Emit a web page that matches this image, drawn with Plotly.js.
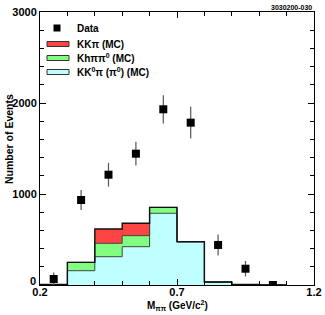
<!DOCTYPE html>
<html>
<head>
<meta charset="utf-8">
<script src="https://cdn.plot.ly/plotly-3.0.1.min.js"></script>
<style>html,body{margin:0;padding:0;background:#fff;}#chart{width:325px;height:315px;}</style>
</head>
<body>
<div id="chart"></div>
<script>
// Bin centers (M_pipi, GeV/c^2), bin width 0.1
var binCenters = [0.25, 0.35, 0.45, 0.55, 0.65, 0.75, 0.85, 0.95, 1.05];
var binWidth = 0.1;
// MC stacked components
var kk0pi = [5, 157, 311, 421, 788, 476, 33, 5, 0];      // KK0 pi (pi0) (MC), cyan
var khpipi0 = [0, 92, 147, 121, 65, 0, 0, 0, 0];         // Kh pi pi0 (MC), green
var kkpi = [0, 0, 157, 136, 0, 0, 0, 0, 0];              // KK pi (MC), red
// Data points
var dataY = [66, 934, 1212, 1443, 1931, 1784, 440, 179, 0];
var dataErr = [70, 110, 130, 130, 155, 175, 115, 85, 0];
// Y tick labels
var yTickVals = [1000, 2000, 3000];
var yTickText = ['1000', '2000', '3000'];

var FONT = "Liberation Sans, Arial, Helvetica, sans-serif";

// step outlines built from the data
var edges = binCenters.map(function(c){ return c - binWidth / 2; });
edges.push(binCenters[binCenters.length - 1] + binWidth / 2);
function stepY(arr){ var a = arr.slice(); a.push(arr[arr.length - 1]); return a; }
var lvl1 = kk0pi.slice();
var lvl2 = kk0pi.map(function(v, i){ return v + khpipi0[i]; });
var lvl3 = lvl2.map(function(v, i){ return v + kkpi[i]; });

var traces = [
  {type: 'bar', x: binCenters, y: kk0pi, width: binWidth,
   marker: {color: '#c0ffff', line: {width: 0}}, hoverinfo: 'skip'},
  {type: 'bar', x: binCenters, y: khpipi0, width: binWidth,
   marker: {color: '#80ff80', line: {width: 0}}, hoverinfo: 'skip'},
  {type: 'bar', x: binCenters, y: kkpi, width: binWidth,
   marker: {color: '#ff4444', line: {width: 0}}, hoverinfo: 'skip'},
  {type: 'scatter', mode: 'lines', x: edges, y: stepY(lvl1), line: {shape: 'hv', color: '#444', width: 1}, hoverinfo: 'skip'},
  {type: 'scatter', mode: 'lines', x: edges, y: stepY(lvl2), line: {shape: 'hv', color: '#444', width: 1}, hoverinfo: 'skip'},
  {type: 'scatter', mode: 'lines', x: edges, y: stepY(lvl3), line: {shape: 'hv', color: '#111', width: 1.4}, hoverinfo: 'skip'},
  {type: 'scatter', mode: 'markers', x: binCenters, y: dataY,
   marker: {symbol: 'square', size: 8, color: '#000'},
   error_y: {type: 'data', array: dataErr, visible: true, color: '#555', thickness: 1.2, width: 0}}
];

function px2x(px){ return (px - 40) / 274; }
function px2y(py){ return (285 - py) / 273; }

var shapes = [
  {type: 'rect', xref: 'paper', yref: 'paper', x0: px2x(53.5), x1: px2x(60.5), y0: px2y(31.5), y1: px2y(24.5), fillcolor: '#000', line: {width: 0}},
  {type: 'rect', xref: 'paper', yref: 'paper', x0: px2x(47), x1: px2x(69), y0: px2y(46.5), y1: px2y(41.5), fillcolor: '#ff4444', line: {color: '#333', width: 1}},
  {type: 'rect', xref: 'paper', yref: 'paper', x0: px2x(47), x1: px2x(69), y0: px2y(60.5), y1: px2y(55.5), fillcolor: '#80ff80', line: {color: '#333', width: 1}},
  {type: 'rect', xref: 'paper', yref: 'paper', x0: px2x(47), x1: px2x(69), y0: px2y(74.5), y1: px2y(69.5), fillcolor: '#c0ffff', line: {color: '#333', width: 1}}
];

var lf = {family: FONT, size: 10, color: '#000', weight: 'bold'};
var tf = {family: FONT, size: 11, color: '#000', weight: 'bold'};
var annotations = [
  {xref: 'paper', yref: 'paper', x: px2x(75), y: px2y(28), xanchor: 'left', yanchor: 'middle', text: 'Data', showarrow: false, font: lf},
  {xref: 'paper', yref: 'paper', x: px2x(75), y: px2y(44), xanchor: 'left', yanchor: 'middle', text: 'KKπ (MC)', showarrow: false, font: lf},
  {xref: 'paper', yref: 'paper', x: px2x(75), y: px2y(58), xanchor: 'left', yanchor: 'middle', text: 'Khππ<sup>0</sup> (MC)', showarrow: false, font: lf},
  {xref: 'paper', yref: 'paper', x: px2x(75), y: px2y(72), xanchor: 'left', yanchor: 'middle', text: 'KK<sup>0</sup>π (π<sup>0</sup>) (MC)', showarrow: false, font: lf},
  {xref: 'paper', yref: 'paper', x: px2x(314), y: px2y(7), xanchor: 'right', yanchor: 'middle', text: '3030200-030', showarrow: false, font: {family: FONT, size: 7, color: '#000', weight: 'bold'}},
  {xref: 'paper', yref: 'paper', x: 0.5, y: px2y(305), xanchor: 'center', yanchor: 'middle', text: 'M<sub>ππ</sub> (GeV/c<sup>2</sup>)', showarrow: false, font: {family: FONT, size: 10, color: '#000', weight: 'bold'}},
  {xref: 'paper', yref: 'paper', x: px2x(9), y: px2y(139), xanchor: 'center', yanchor: 'middle', textangle: -90, text: 'Number of Events', showarrow: false, font: {family: FONT, size: 10.5, color: '#000', weight: 'bold'}},
  {xref: 'paper', yref: 'paper', x: px2x(37.5), y: px2y(281), xanchor: 'right', yanchor: 'middle', text: '0', showarrow: false, font: tf}
];

var layout = {
  width: 325, height: 315,
  margin: {l: 40, r: 11, t: 12, b: 30, pad: 0},
  paper_bgcolor: '#fff', plot_bgcolor: '#fff',
  barmode: 'stack', bargap: 0,
  showlegend: false,
  xaxis: {
    range: [0.2, 1.2], tick0: 0.2, dtick: 0.5, tickformat: '.1f',
    ticks: 'inside', ticklen: 6, tickcolor: '#000', tickwidth: 1,
    minor: {dtick: 0.1, tick0: 0.2, ticks: 'inside', ticklen: 4, tickcolor: '#000'},
    showline: true, linecolor: '#000', linewidth: 1, mirror: 'allticks',
    showgrid: false, zeroline: false, ticklabelstandoff: -3,
    tickfont: tf
  },
  yaxis: {
    range: [0, 3000], tickmode: 'array', tickvals: yTickVals, ticktext: yTickText,
    ticks: 'inside', ticklen: 6, tickcolor: '#000', tickwidth: 1,
    minor: {tickmode: 'linear', tick0: 0, dtick: 200, ticks: 'inside', ticklen: 4, tickcolor: '#000'},
    showline: true, linecolor: '#000', linewidth: 1, mirror: 'allticks',
    showgrid: false, zeroline: false,
    tickfont: tf
  },
  shapes: shapes,
  annotations: annotations
};

Plotly.newPlot('chart', traces, layout, {staticPlot: true, displayModeBar: false});
</script>
</body>
</html>
